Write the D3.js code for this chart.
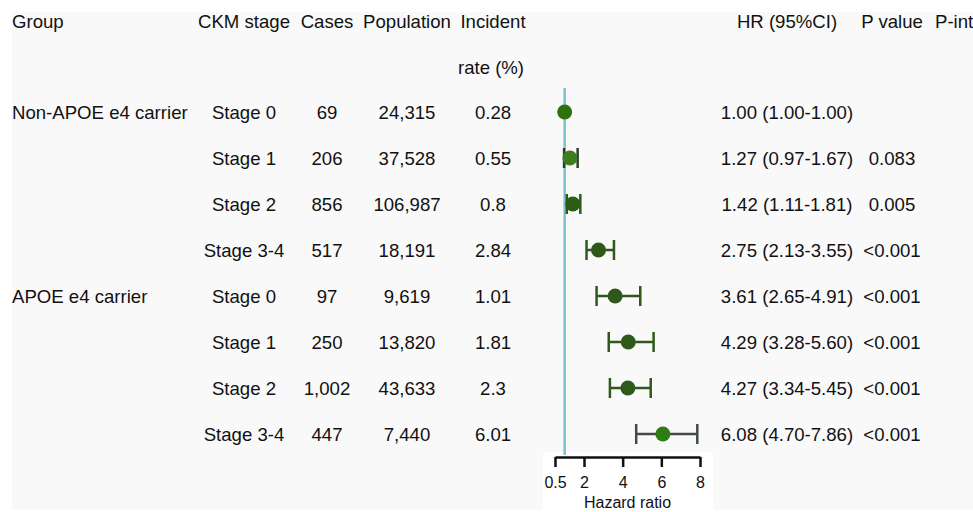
<!DOCTYPE html>
<html>
<head>
<meta charset="utf-8">
<script src="https://cdn.jsdelivr.net/npm/d3@7"></script>
<style>
  body { margin: 0; background: #fff; }
  text { font-family: "Liberation Sans", Arial, sans-serif; fill: #111; }
</style>
</head>
<body>
<div id="chart"></div>
<script>
// table data, one entry per row
var groups = ["Non-APOE e4 carrier", "", "", "", "APOE e4 carrier", "", "", ""];
var stages = ["Stage 0", "Stage 1", "Stage 2", "Stage 3-4", "Stage 0", "Stage 1", "Stage 2", "Stage 3-4"];
var cases = [69, 206, 856, 517, 97, 250, 1002, 447];
var population = [24315, 37528, 106987, 18191, 9619, 13820, 43633, 7440];
var incidence = [0.28, 0.55, 0.8, 2.84, 1.01, 1.81, 2.3, 6.01];
var hr = [1.00, 1.27, 1.42, 2.75, 3.61, 4.29, 4.27, 6.08];
var ciLow = [1.00, 0.97, 1.11, 2.13, 2.65, 3.28, 3.34, 4.70];
var ciHigh = [1.00, 1.67, 1.81, 3.55, 4.91, 5.60, 5.45, 7.86];
var pValues = ["", "0.083", "0.005", "<0.001", "<0.001", "<0.001", "<0.001", "<0.001"];
var axisTicks = [0.5, 2, 4, 6, 8];

// marker colours (style, not data)
var pointColors = ["#2e7210", "#3e7e1c", "#2d5c14", "#2e591b", "#2e591b", "#2e591b", "#2e591b", "#2e7d12"];
var barColors = ["#2e7210", "#2f3d2f", "#2d5c14", "#2e591b", "#2e591b", "#2e591b", "#2e591b", "#434c43"];

var width = 973, height = 512;
var fontSize = "18.6px";

var svg = d3.select("#chart")
  .append("svg")
  .attr("width", width)
  .attr("height", height);

// panel backgrounds
svg.append("rect")
  .attr("x", 12).attr("y", 12)
  .attr("width", width - 12).attr("height", 498)
  .attr("fill", "#f9f9f9");

svg.append("rect")
  .attr("x", 543).attr("y", 452)
  .attr("width", 170).attr("height", 60)
  .attr("fill", "#ffffff");

var rows = d3.range(stages.length);

var yScale = d3.scalePoint()
  .domain(rows)
  .range([112, 434]);

var xScale = d3.scaleLinear()
  .domain([0.5, 8])
  .range([555, 700]);

var fmtInt = d3.format(",");
var fmt2 = d3.format(".2f");

// header
var headers = [
  { t: "Group", x: 12, a: "start" },
  { t: "CKM stage", x: 244, a: "middle" },
  { t: "Cases", x: 327, a: "middle" },
  { t: "Population", x: 407, a: "middle" },
  { t: "Incident", x: 493, a: "middle" },
  { t: "HR (95%CI)", x: 787, a: "middle" },
  { t: "P value", x: 892, a: "middle" },
  { t: "P-int", x: 935, a: "start" }
];

svg.selectAll(".header")
  .data(headers)
  .enter().append("text")
  .attr("class", "header")
  .attr("x", function (d) { return d.x })
  .attr("y", 21)
  .attr("dy", "0.35em")
  .attr("text-anchor", function (d) { return d.a })
  .style("font-size", fontSize)
  .text(function (d) { return d.t });

svg.append("text")
  .attr("x", 491)
  .attr("y", 67)
  .attr("dy", "0.35em")
  .attr("text-anchor", "middle")
  .style("font-size", fontSize)
  .text("rate (%)");

// table columns
var columns = [
  { x: 12, a: "start", v: function (i) { return groups[i] } },
  { x: 244, a: "middle", v: function (i) { return stages[i] } },
  { x: 327, a: "middle", v: function (i) { return fmtInt(cases[i]) } },
  { x: 407, a: "middle", v: function (i) { return fmtInt(population[i]) } },
  { x: 493, a: "middle", v: function (i) { return String(incidence[i]) } },
  { x: 787, a: "middle", v: function (i) { return fmt2(hr[i]) + " (" + fmt2(ciLow[i]) + "-" + fmt2(ciHigh[i]) + ")" } },
  { x: 892, a: "middle", v: function (i) { return pValues[i] } }
];

columns.forEach(function (col) {
  svg.append("g")
    .selectAll("text")
    .data(rows)
    .enter().append("text")
    .attr("x", col.x)
    .attr("y", function (i) { return yScale(i) })
    .attr("dy", "0.35em")
    .attr("text-anchor", col.a)
    .style("font-size", fontSize)
    .text(function (i) { return col.v(i) });
});

// reference line at HR = 1
svg.append("line")
  .attr("x1", xScale(1)).attr("x2", xScale(1))
  .attr("y1", 88).attr("y2", 455)
  .attr("stroke", "#7cc2cd")
  .attr("stroke-width", 2.5);

// error bars
var bars = svg.append("g")
  .selectAll("g")
  .data(rows.filter(function (i) { return ciHigh[i] > ciLow[i] }))
  .enter().append("g")
  .attr("stroke", function (i) { return barColors[i] })
  .attr("stroke-width", 2.5);

bars.append("line")
  .attr("x1", function (i) { return xScale(ciLow[i]) })
  .attr("x2", function (i) { return xScale(ciHigh[i]) })
  .attr("y1", function (i) { return yScale(i) })
  .attr("y2", function (i) { return yScale(i) });

bars.append("line")
  .attr("x1", function (i) { return xScale(ciLow[i]) })
  .attr("x2", function (i) { return xScale(ciLow[i]) })
  .attr("y1", function (i) { return yScale(i) - 10 })
  .attr("y2", function (i) { return yScale(i) + 10 });

bars.append("line")
  .attr("x1", function (i) { return xScale(ciHigh[i]) })
  .attr("x2", function (i) { return xScale(ciHigh[i]) })
  .attr("y1", function (i) { return yScale(i) - 10 })
  .attr("y2", function (i) { return yScale(i) + 10 });

// points
svg.append("g")
  .selectAll("circle")
  .data(rows)
  .enter().append("circle")
  .attr("cx", function (i) { return xScale(hr[i]) })
  .attr("cy", function (i) { return yScale(i) })
  .attr("r", 7.5)
  .attr("fill", function (i) { return pointColors[i] });

// x axis
var xAxis = d3.axisBottom(xScale)
  .tickValues(axisTicks)
  .tickFormat(function (d) { return String(d) })
  .tickSize(10)
  .tickSizeOuter(0)
  .tickPadding(9.5);

var axisG = svg.append("g")
  .attr("class", "axis x-axis")
  .attr("transform", "translate(0,457)")
  .call(xAxis);

axisG.selectAll("path, line")
  .attr("stroke", "#111")
  .attr("stroke-width", 2.5);

axisG.selectAll("text")
  .style("font-size", "16px")
  .style("font-family", "'Liberation Sans', Arial, sans-serif")
  .attr("fill", "#111");

svg.append("text")
  .attr("x", xScale(4.25))
  .attr("y", 508)
  .attr("text-anchor", "middle")
  .style("font-size", "16px")
  .text("Hazard ratio");
</script>
</body>
</html>
